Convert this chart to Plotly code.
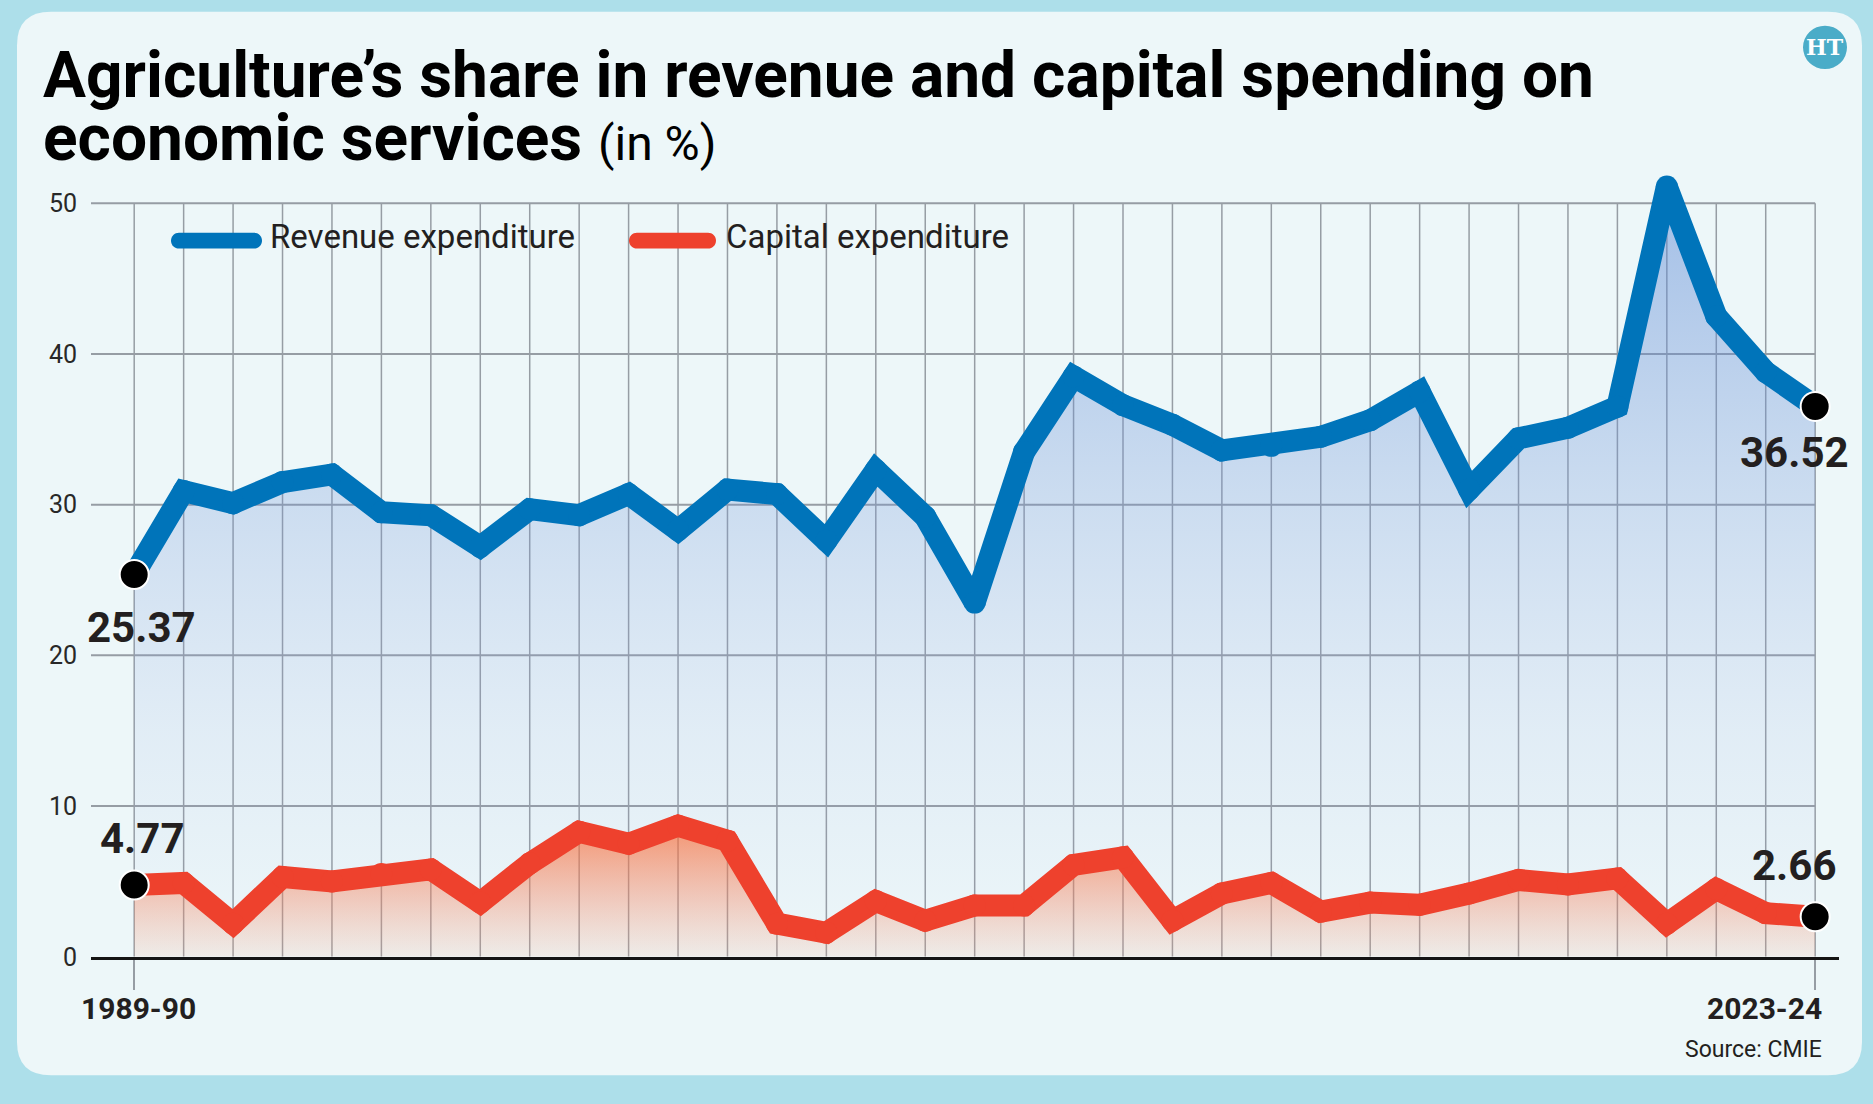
import plotly.graph_objects as go

W, H = 1873, 1104

years = ["1989-90", "1990-91", "1991-92", "1992-93", "1993-94", "1994-95", "1995-96",
         "1996-97", "1997-98", "1998-99", "1999-00", "2000-01", "2001-02", "2002-03",
         "2003-04", "2004-05", "2005-06", "2006-07", "2007-08", "2008-09", "2009-10",
         "2010-11", "2011-12", "2012-13", "2013-14", "2014-15", "2015-16", "2016-17",
         "2017-18", "2018-19", "2019-20", "2020-21", "2021-22", "2022-23", "2023-24"]

revenue = [25.37, 30.9, 30.1, 31.5, 32.0, 29.5, 29.3, 27.2, 29.7, 29.3, 30.7, 28.3,
           31.0, 30.7, 27.6, 32.3, 29.2, 23.5, 33.5, 38.5, 36.6, 35.3, 33.6, 33.9,
           34.5, 35.6, 37.5, 31.0, 34.4, 35.1, 36.5, 51.1, 42.5, 38.8, 36.52]

capital = [4.77, 4.9, 2.2, 5.3, 5.0, 5.5, 5.8, 3.6, 6.2, 8.3, 7.5, 8.7,
           7.7, 2.2, 1.6, 3.7, 2.4, 3.4, 3.4, 6.1, 6.6, 2.4, 4.2, 4.9,
           3.0, 3.6, 3.45, 4.2, 5.1, 4.8, 5.2, 2.2, 4.5, 2.9, 2.66]

y_ticks = [0, 10, 20, 30, 40, 50]

series_names = ["Revenue expenditure", "Capital expenditure"]
title_line1 = "Agriculture’s share in revenue and capital spending on"
title_line2_bold = "economic services"
title_unit = "(in %)"
source_text = "Source: CMIE"

NARROW = "Roboto, Liberation Sans, Arial, sans-serif"
BLUE = "rgb(0,116,186)"
RED = "rgb(238,65,45)"
OUTER = "rgb(173,223,234)"
CARD = "rgb(237,247,249)"
GRID = "rgb(150,157,164)"
TEXT = "rgb(35,31,32)"


def px(x):
    return x / W


def py(y):
    return 1 - y / H


def path_from(points_cmds):
    out = []
    for cmd, pts in points_cmds:
        coords = " ".join(f"{px(x):.6f},{py(y):.6f}" for x, y in pts)
        out.append(f"{cmd}{coords}")
    return " ".join(out) + " Z"


def rounded_rect(x0, y0, x1, y1, r):
    return path_from([
        ("M", [(x0 + r, y0)]), ("L", [(x1 - r, y0)]), ("Q", [(x1, y0), (x1, y0 + r)]),
        ("L", [(x1, y1 - r)]), ("Q", [(x1, y1), (x1 - r, y1)]),
        ("L", [(x0 + r, y1)]), ("Q", [(x0, y1), (x0, y1 - r)]),
        ("L", [(x0, y0 + r)]), ("Q", [(x0, y0), (x0 + r, y0)]),
    ])


def pill(x0, x1, cy, h):
    r = h / 2
    k = 0.5523 * r
    a, b = x0 + r, x1 - r
    top, bot = cy - r, cy + r
    return path_from([
        ("M", [(a, top)]), ("L", [(b, top)]),
        ("C", [(b + k, top), (x1, cy - k), (x1, cy)]),
        ("C", [(x1, cy + k), (b + k, bot), (b, bot)]),
        ("L", [(a, bot)]),
        ("C", [(a - k, bot), (x0, cy + k), (x0, cy)]),
        ("C", [(x0, cy - k), (a - k, top), (a, top)]),
    ])


# plot geometry (pixels)
X_LEFT, X_RIGHT = 91, 1839
FIRST_X, STEP = 134.2, 49.44
Y_ZERO, UNIT = 970, 15.28
Y_TOP = 52.5
LW = 22
x_range = [-(FIRST_X - X_LEFT) / STEP, (X_RIGHT - FIRST_X) / STEP]
y_dom_top = Y_ZERO - Y_TOP * UNIT

fig = go.Figure()

fig.add_trace(go.Scatter(
    x=years, y=revenue, mode="lines+markers", name=series_names[0],
    line=dict(color=BLUE, width=LW),
    marker=dict(color=BLUE, size=LW, line=dict(width=0)),
    fill="tozeroy",
    fillgradient=dict(type="vertical", start=0, stop=52,
                      colorscale=[[0, "rgba(137,160,222,0.0)"],
                                  [0.3, "rgba(137,160,222,0.12)"],
                                  [0.6, "rgba(114,150,216,0.28)"],
                                  [1, "rgba(84,131,211,0.5)"]]),
    showlegend=False, hoverinfo="skip",
))
fig.add_trace(go.Scatter(
    x=years, y=capital, mode="lines+markers", name=series_names[1],
    line=dict(color=RED, width=LW),
    marker=dict(color=RED, size=LW, line=dict(width=0)),
    fill="tozeroy",
    fillgradient=dict(type="vertical", start=0, stop=9,
                      colorscale=[[0, "rgba(250,160,120,0.08)"],
                                  [0.5, "rgba(250,130,90,0.38)"],
                                  [1, "rgba(250,105,50,0.66)"]]),
    showlegend=False, hoverinfo="skip",
))
fig.add_trace(go.Scatter(
    x=[years[0], years[-1], years[0], years[-1]],
    y=[revenue[0], revenue[-1], capital[0], capital[-1]],
    mode="markers",
    marker=dict(size=29, color="black", line=dict(color="white", width=2)),
    cliponaxis=False, showlegend=False, hoverinfo="skip",
))

shapes = []
# background card
shapes.append(dict(type="path", xref="paper", yref="paper", layer="below",
                   path=rounded_rect(17, 12, 1862, 1090, 34),
                   fillcolor=CARD, line=dict(width=0)))
# vertical grid
for yr in years:
    shapes.append(dict(type="line", xref="x", yref="y", layer="below",
                       x0=yr, x1=yr, y0=0, y1=y_ticks[-1],
                       line=dict(color=GRID, width=1.5)))
# horizontal grid
for t in y_ticks[1:]:
    shapes.append(dict(type="line", xref="x", yref="y", layer="below",
                       x0=x_range[0], x1=len(years) - 1, y0=t, y1=t,
                       line=dict(color=GRID, width=2)))
# legend pills
shapes.append(dict(type="path", xref="paper", yref="paper", path=pill(171, 262, 244, 16),
                   fillcolor=BLUE, line=dict(width=0)))
shapes.append(dict(type="path", xref="paper", yref="paper", path=pill(629, 716, 244, 16),
                   fillcolor=RED, line=dict(width=0)))
# HT logo
shapes.append(dict(type="circle", xref="paper", yref="paper",
                   x0=px(1803), x1=px(1847), y0=py(70), y1=py(26),
                   fillcolor="rgb(74,172,200)", line=dict(width=0)))

ann = []


def note(text, x, y, size, xanchor="left", bold=False, color=TEXT, family=NARROW, **kw):
    ann.append(dict(text=text, x=px(x), y=py(y), xref="paper", yref="paper",
                    xanchor=xanchor, yanchor="middle", showarrow=False,
                    font=dict(family=family, size=size, color=color,
                              weight="bold" if bold else "normal"), **kw))


note(title_line1, 41, 77, 64, bold=True, color="black")
note(f"<b>{title_line2_bold}</b> <span style='font-size:48px'>{title_unit}</span>", 41, 140, 64,
     color="black")
note(series_names[0], 268, 240, 33)
note(series_names[1], 724, 240, 33)
note(years[0], 138, 1022, 30, xanchor="center", bold=True)
note(years[-1], 1824, 1022, 30, xanchor="right", bold=True)
note(source_text, 1824, 1064, 23, xanchor="right")
note("HT", 1825, 48, 22, xanchor="center", bold=True, color="white", family="DejaVu Serif")


def value_label(xcat, yval, dx, dy):
    ann.append(dict(text=f"{yval:.2f}", x=xcat, y=yval, xref="x", yref="y",
                    xanchor="center", yanchor="middle", showarrow=False,
                    xshift=dx, yshift=dy,
                    font=dict(family=NARROW, size=42, color=TEXT, weight="bold")))


value_label(years[0], revenue[0], 7, -53)
value_label(years[-1], revenue[-1], -21, -46)
value_label(years[0], capital[0], 8, 46)
value_label(years[-1], capital[-1], -21, 51)

fig.update_layout(
    width=W, height=H,
    margin=dict(l=0, r=0, t=0, b=0),
    paper_bgcolor=OUTER, plot_bgcolor="rgba(0,0,0,0)",
    shapes=shapes, annotations=ann,
    xaxis=dict(type="category", categoryorder="array", categoryarray=years,
               domain=[px(X_LEFT), px(X_RIGHT)], range=x_range,
               showgrid=False, zeroline=False,
               showline=True, linecolor="rgb(20,20,20)", linewidth=2.5,
               tickvals=[years[0], years[-1]], ticks="outside", ticklen=30,
               tickwidth=1.5, tickcolor=GRID, showticklabels=False, fixedrange=True),
    yaxis=dict(domain=[py(Y_ZERO), py(y_dom_top)], range=[0, Y_TOP],
               tickvals=y_ticks, showgrid=False, zeroline=False, showline=False,
               ticks="", ticklen=0, ticklabelstandoff=13,
               tickfont=dict(family=NARROW, size=25, color="rgb(40,40,40)"),
               fixedrange=True),
)

fig.write_html("out.html")
